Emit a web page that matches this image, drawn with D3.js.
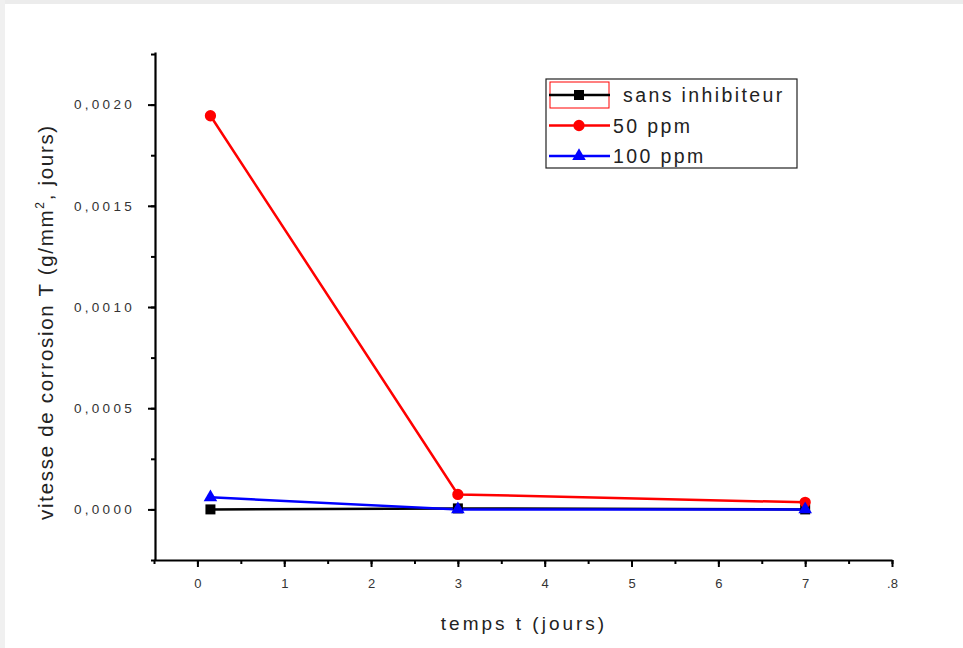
<!DOCTYPE html>
<html>
<head>
<meta charset="utf-8">
<script src="https://cdn.jsdelivr.net/npm/d3@7"></script>
<style>
  body { margin: 0; background: #fff; }
  svg { display: block; font-family: Arial, "Liberation Sans", sans-serif; }
</style>
</head>
<body>
<div id="chart"></div>
<script>
// data
const days = [0.15, 3, 7];
const sansInhibiteur = [0, 0.000005, 0];
const ppm50 = [0.001945, 0.000074, 0.000035];
const ppm100 = [0.00006, 0, 0];
const seriesNames = ['sans inhibiteur', '50 ppm', '100 ppm'];
const xTicks = [0, 1, 2, 3, 4, 5, 6, 7, 8];
const yTicks = [0, 0.0005, 0.001, 0.0015, 0.002];

const width = 963;
const height = 648;

const svg = d3.select('#chart')
    .append('svg')
    .attr('width', width)
    .attr('height', height);

// faint frame from the screenshot
svg.append('rect').attr('x', 0).attr('y', 0).attr('width', width).attr('height', 4).attr('fill', '#ececec');
svg.append('rect').attr('x', 0).attr('y', 0).attr('width', 5).attr('height', height).attr('fill', '#f0f0f0');

const xScale = d3.scaleLinear().domain([-0.5, 8]).range([154, 892]);
const yScale = d3.scaleLinear().domain([-0.00025, 0.00226]).range([560, 52]);

const fmtY = d => d3.format('.4f')(d).replace('.', ',');

// minor ticks
const xAxisMinor = d3.axisBottom(xScale)
    .tickValues(d3.range(-0.5, 8.01, 0.5))
    .tickSize(4)
    .tickFormat('');
svg.append('g')
    .attr('transform', `translate(0,560)`)
    .call(xAxisMinor)
    .call(g => g.select('.domain').remove())
    .call(g => g.selectAll('line').attr('stroke', '#000').attr('stroke-width', 2));

const yAxisMinor = d3.axisLeft(yScale)
    .tickValues(d3.range(-0.00025, 0.00226, 0.00025))
    .tickSize(4)
    .tickFormat('');
svg.append('g')
    .attr('transform', `translate(155,0)`)
    .call(yAxisMinor)
    .call(g => g.select('.domain').remove())
    .call(g => g.selectAll('line').attr('stroke', '#000').attr('stroke-width', 2));

// major axes
const xAxis = d3.axisBottom(xScale)
    .tickValues(xTicks)
    .tickSize(7)
    .tickPadding(12)
    .tickSizeOuter(0)
    .tickFormat(d => d === 8 ? '.8' : d3.format('d')(d));
svg.append('g')
    .attr('transform', `translate(0,560)`)
    .call(xAxis)
    .call(g => g.select('.domain').attr('stroke-width', 2.2))
    .call(g => g.selectAll('line').attr('stroke-width', 2))
    .call(g => g.selectAll('text').attr('fill', '#333').style('font-size', '13px'));

const yAxis = d3.axisLeft(yScale)
    .tickValues(yTicks)
    .tickSize(7)
    .tickPadding(13)
    .tickSizeOuter(0)
    .tickFormat(fmtY);
svg.append('g')
    .attr('transform', `translate(155,0)`)
    .call(yAxis)
    .call(g => g.select('.domain').attr('stroke-width', 2.2))
    .call(g => g.selectAll('line').attr('stroke-width', 2))
    .call(g => g.selectAll('text').attr('fill', '#333').style('font-size', '13.5px').style('letter-spacing', '3.3px'));

// axis titles
svg.append('text')
    .attr('x', 524)
    .attr('y', 630)
    .attr('fill', '#222')
    .style('font-size', '19px')
    .style('letter-spacing', '3px')
    .style('text-anchor', 'middle')
    .text('temps t (jours)');

const yTitle = svg.append('text')
    .attr('transform', `translate(53,322) rotate(-90)`)
    .attr('fill', '#222')
    .style('font-size', '20.5px')
    .style('letter-spacing', '1.7px')
    .style('text-anchor', 'middle');
yTitle.append('tspan').text('vitesse de corrosion T (g/mm');
yTitle.append('tspan').attr('dy', -9).style('font-size', '12px').text('2');
yTitle.append('tspan').attr('dy', 9).text(', jours)');

// series
const series = [
    { name: seriesNames[0], values: sansInhibiteur, color: '#000', shape: d3.symbolSquare },
    { name: seriesNames[1], values: ppm50, color: '#ff0000', shape: d3.symbolCircle },
    { name: seriesNames[2], values: ppm100, color: '#0000ff', shape: d3.symbolTriangle }
];

const line = d3.line()
    .x((d, i) => xScale(days[i]))
    .y(d => yScale(d));

series.forEach(s => {
    svg.append('path')
        .datum(s.values)
        .attr('fill', 'none')
        .attr('stroke', s.color)
        .attr('stroke-width', 2.5)
        .attr('d', line);
});

const symbolSize = s => s.shape === d3.symbolTriangle ? 80 : 100;

series.forEach(s => {
    svg.selectAll(null)
        .data(s.values)
        .enter()
        .append('path')
        .attr('transform', (d, i) => `translate(${xScale(days[i])},${yScale(d)})`)
        .attr('d', d3.symbol().type(s.shape).size(symbolSize(s)))
        .attr('fill', s.color);
});

// legend
const legend = svg.append('g').attr('transform', 'translate(546,79)');
legend.append('rect')
    .attr('width', 251)
    .attr('height', 89)
    .attr('fill', '#fff')
    .attr('stroke', '#222')
    .attr('stroke-width', 1.2);

legend.append('rect')
    .attr('x', 4)
    .attr('y', 3)
    .attr('width', 59)
    .attr('height', 26)
    .attr('fill', 'none')
    .attr('stroke', '#ff0000')
    .attr('stroke-width', 1);

series.forEach((s, i) => {
    const y = 16 + i * 30.5;
    const row = legend.append('g').attr('transform', `translate(0,${y})`);
    row.append('line')
        .attr('x1', 3).attr('x2', 64)
        .attr('stroke', s.color)
        .attr('stroke-width', 2.5);
    row.append('path')
        .attr('transform', 'translate(33,0)')
        .attr('d', d3.symbol().type(s.shape).size(symbolSize(s)))
        .attr('fill', s.color);
    row.append('text')
        .attr('x', i === 0 ? 77 : 67)
        .attr('y', 7)
        .attr('fill', '#222')
        .style('font-size', '19.5px')
        .style('letter-spacing', '2.4px')
        .text(s.name);
});
</script>
</body>
</html>
